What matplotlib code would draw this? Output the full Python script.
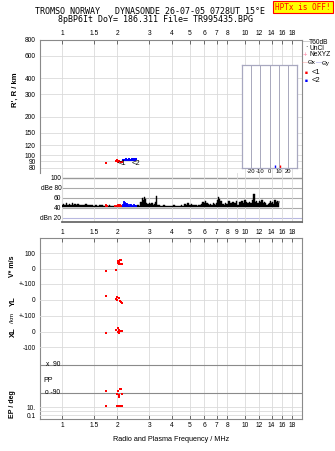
import matplotlib
matplotlib.use('Agg')
import matplotlib.pyplot as plt
from matplotlib.ticker import FixedLocator, FixedFormatter, NullLocator

# ---------------- data ----------------
freq_ticks = [1, 1.5, 2, 3, 4, 5, 6, 7, 8, 10, 12, 14, 16, 18]
freq_ticks_mid = [1, 1.5, 2, 3, 4, 5, 6, 7, 8, 9, 10, 12, 14, 16, 18]
range_ticks = [800, 600, 400, 300, 200, 150, 120, 100, 90, 80]
db_ticks = [100, 80, 60, 40, 20]
db_tick_labels = ['100', 'dBe 80', '60', '40', 'dBn 20']
tilt_ticks = [-20, -10, 0, 10, 20]

# echoes (O = red, X = blue)
o_freq = [1.75, 1.97, 2.00, 2.03, 2.06, 2.09, 2.12]
o_range = [87, 90, 91, 89, 90, 88, 89]
x_freq = [2.15, 2.17, 2.19, 2.21, 2.23, 2.25, 2.27, 2.29, 2.31, 2.34, 2.37, 2.40, 2.43, 2.46, 2.49, 2.52, 2.55]
x_range = [91, 92, 92, 91, 92, 93, 92, 92, 93, 92, 92, 93, 92, 92, 93, 92, 93]
tilt_o = 11
tilt_x = 6

# amplitude trace (MHz, dB)
noise_trace = [
    (1.00, 47), (1.02, 49), (1.04, 46), (1.06, 50), (1.08, 47), (1.10, 48), (1.12, 46), (1.14, 51),
    (1.16, 46), (1.18, 49), (1.20, 47), (1.23, 48), (1.26, 46), (1.29, 47), (1.32, 46), (1.35, 48),
    (1.38, 46), (1.41, 47), (1.44, 46), (1.47, 47), (1.50, 45), (1.54, 46), (1.58, 45), (1.62, 46),
    (1.66, 46), (1.70, 45), (1.74, 45), (1.78, 45), (1.82, 46), (1.86, 45), (1.90, 45), (1.94, 45),
    (1.98, 45), (2.02, 45), (2.06, 45), (2.10, 45), (2.14, 45), (2.18, 45), (2.22, 45), (2.26, 45),
    (2.30, 45), (2.35, 45), (2.40, 45), (2.45, 45), (2.50, 45), (2.55, 45), (2.60, 46), (2.65, 45),
    (2.70, 53), (2.74, 60), (2.78, 56), (2.82, 62), (2.86, 58), (2.90, 51), (2.95, 49), (3.00, 51),
    (3.05, 48), (3.10, 50), (3.15, 47), (3.20, 49), (3.25, 52), (3.30, 64), (3.35, 47), (3.40, 46),
    (3.50, 45), (3.60, 46), (3.70, 45), (3.80, 45), (3.90, 45), (4.00, 45), (4.10, 46), (4.20, 45),
    (4.30, 45), (4.40, 45), (4.50, 46), (4.60, 45), (4.70, 48), (4.80, 47), (4.90, 51), (5.00, 46),
    (5.10, 49), (5.20, 47), (5.30, 46), (5.40, 46), (5.50, 45), (5.60, 47), (5.70, 46), (5.80, 49),
    (5.90, 53), (6.00, 51), (6.10, 55), (6.20, 50), (6.30, 48), (6.40, 46), (6.50, 49), (6.60, 47),
    (6.70, 51), (6.80, 48), (6.90, 47), (7.00, 50), (7.10, 56), (7.20, 62), (7.30, 58), (7.40, 55),
    (7.50, 48), (7.60, 49), (7.70, 47), (7.80, 51), (8.00, 49), (8.20, 55), (8.40, 51), (8.60, 53),
    (8.80, 50), (9.00, 54), (9.20, 47), (9.40, 52), (9.60, 54), (9.80, 51), (10.0, 57), (10.2, 52),
    (10.4, 50), (10.6, 53), (10.8, 51), (11.0, 56), (11.2, 68), (11.4, 53), (11.6, 55), (11.8, 51),
    (12.0, 54), (12.2, 52), (12.4, 56), (12.6, 51), (12.8, 53), (13.0, 50), (13.2, 47), (13.4, 48),
    (13.6, 51), (13.8, 54), (14.0, 50), (14.2, 53), (14.4, 49), (14.6, 56), (14.8, 52), (15.0, 55),
    (15.2, 51), (15.4, 55),
]
o_amp_freq = [1.73, 1.75, 1.77, 1.96, 1.99, 2.02, 2.05, 2.08, 2.11]
o_amp_db = [46, 48, 46, 46, 47, 48, 49, 48, 47]
x_amp_freq = [2.15, 2.18, 2.21, 2.24, 2.27, 2.30, 2.34, 2.38, 2.42, 2.46, 2.50, 2.54]
x_amp_db = [48, 54, 53, 51, 50, 49, 48, 49, 47, 48, 47, 46]

# parameters (bottom panel)
v_freq = [1.75, 1.97, 2.02, 2.04, 2.07, 2.09, 2.03, 2.06, 2.10, 2.12]
v_star = [-16, -10, 50, 45, 58, 52, 35, 30, 28, 32]
yl_freq = [1.75, 1.97, 2.01, 2.05, 2.00, 2.07, 2.09, 2.12]
yl_km = [28, 5, 21, 15, 0, -6, -15, -21]
xl_freq = [1.75, 1.97, 2.03, 2.05, 2.08, 2.03, 2.06, 2.12, 2.05]
xl_km = [-8, 10, 21, 10, 5, -3, -8, 5, -12]
pp_freq = [1.75, 1.99, 2.02, 2.08, 2.10, 2.05, 2.05, 2.13]
pp_deg = [-75, -96, -75, -64, -64, -103, -114, -98]
ep_freq = [1.75, 1.99, 2.02, 2.05, 2.08, 2.10, 2.13]
ep_deg = [21, 21, 18, 16, 14, 16, 14]

# ---------------- layout helpers ----------------
W, H = 335, 451
fig = plt.figure(figsize=(W / 100, H / 100), dpi=100)
fig.patch.set_facecolor('white')
FONT = 'Liberation Sans'
plt.rcParams['font.family'] = FONT


def rect(x0, y0, x1, y1):
    return [x0 / W, 1 - y1 / H, (x1 - x0) / W, (y1 - y0) / H]


def ftxt(x, y, s, **kw):
    kw.setdefault('fontsize', 5)
    kw.setdefault('ha', 'left')
    kw.setdefault('va', 'center')
    return fig.text(x / W, 1 - y / H, s, **kw)


GRID = '#dadada'
SPINE = '#8a8a8a'
FMIN, FMAX = 0.758, 20.5
TS = 4.8
MS = 2.0

# ---------------- title ----------------
ftxt(150, 11, 'TROMSO NORWAY   DYNASONDE 26-07-05 0728UT 15\u00b0E', ha='center',
     family='DejaVu Sans Mono', fontsize=6)
ftxt(156, 20, '8pBP6It DoY= 186.311 File= TR995435.BPG', ha='center',
     family='DejaVu Sans Mono', fontsize=6)
ftxt(303, 7, 'HPTx is OFF!', ha='center', color='red', family='DejaVu Sans Mono', fontsize=5.6,
     bbox=dict(boxstyle='square,pad=0.25', fc='yellow', ec='red', lw=0.8))


def freq_axis(ax, ticks):
    ax.set_xscale('log')
    ax.xaxis.set_major_locator(FixedLocator(ticks))
    ax.xaxis.set_major_formatter(FixedFormatter([('%g' % t) for t in ticks]))
    ax.xaxis.set_minor_locator(NullLocator())


# ---------------- range panel ----------------
ax_r = fig.add_axes(rect(40, 40, 302, 173))
freq_axis(ax_r, freq_ticks)
ax_r.set_xlim(FMIN, FMAX)
ax_r.set_yscale('log')
ax_r.set_ylim(72.6, 800)
ax_r.yaxis.set_major_locator(FixedLocator(range_ticks))
ax_r.yaxis.set_major_formatter(FixedFormatter([str(t) for t in range_ticks]))
ax_r.yaxis.set_minor_locator(NullLocator())
ax_r.tick_params(axis='x', top=True, bottom=False, labeltop=True, labelbottom=False,
                 direction='in', length=3, width=0.6, color='#555', pad=2, labelsize=TS)
ax_r.tick_params(axis='y', direction='in', length=0, pad=3, labelsize=TS)
ax_r.grid(True, color=GRID, lw=0.6)
ax_r.spines['bottom'].set_visible(False)
for s in ('top', 'left', 'right'):
    ax_r.spines[s].set_color(SPINE)
    ax_r.spines[s].set_linewidth(0.8)
ax_r.plot(o_freq, o_range, 's', color='red', ms=MS, mew=0)
ax_r.plot(x_freq, x_range, 's', color='blue', ms=MS, mew=0)
ax_r.text(2.02, 86, '<1', fontsize=5.5, ha='left', va='center', color='k')
ax_r.text(2.40, 86.5, '<2', fontsize=5.5, ha='left', va='center', color='k')
ftxt(15, 90, "R', R / km", rotation=90, ha='center', fontsize=5.5, fontweight='bold')

# tilt inset
ax_t = fig.add_axes(rect(242, 65, 297, 168))
ax_t.set_xlim(-30, 30)
ax_t.set_ylim(0, 1)
ax_t.set_yticks([])
ax_t.set_xticks(tilt_ticks)
ax_t.set_xticklabels(['-20', '-10', '0', '10', '20'])
ax_t.tick_params(axis='x', length=0, pad=1, labelsize=4.2)
for t in tilt_ticks:
    ax_t.axvline(t, color='#a8a8bc', lw=0.7)
for s in ax_t.spines.values():
    s.set_color('#a8a8c0')
    s.set_linewidth(0.9)
ax_t.vlines([tilt_o], 0, 0.03, color='red', lw=1.0)
ax_t.vlines([tilt_x], 0, 0.03, color='blue', lw=1.0)
ax_t.set_xlabel('Tilt / deg', fontsize=4.2, labelpad=0)

# legend
ftxt(303, 42, '\u2014', color='#a0a0a0', fontsize=5)
ftxt(309, 42, 'T60dB', fontsize=4.8)
ftxt(305, 48, '\u00b7', color='k', fontsize=5)
ftxt(309, 48, 'UnCl', fontsize=4.8)
ftxt(302.5, 55, '+', color='#ff80a0', fontsize=5.5)
ftxt(309, 55, 'NeXYZ', fontsize=4.8)
ftxt(302.5, 63, '\u2014', color='#f08080', fontsize=4.5)
ftxt(308, 63, '\u0398x', fontsize=4.5)
ftxt(316, 63, '\u2014', color='#8080e0', fontsize=4.5)
ftxt(322, 63, '\u0398y', fontsize=4.5)
ftxt(305, 73, '\u25a0', color='red', fontsize=3.5)
ftxt(312, 73, '<1', fontsize=5.5)
ftxt(305, 81, '\u25a0', color='blue', fontsize=3.5)
ftxt(312, 81, '<2', fontsize=5.5)

# ---------------- amplitude panel ----------------
ax_d = fig.add_axes(rect(62, 173, 302, 222))
freq_axis(ax_d, freq_ticks_mid)
ax_d.set_xlim(1.0, FMAX)
ax_d.set_ylim(12, 110)
ax_d.set_yticks(db_ticks)
ax_d.set_yticklabels(db_tick_labels)
ax_d.tick_params(axis='y', length=0, pad=0.5, labelsize=TS)
ax_d.tick_params(axis='x', length=0, pad=5, labelsize=TS)
ax_d.grid(True, axis='x', color=GRID, lw=0.6)
ax_d.spines['top'].set_visible(False)
ax_d.spines['left'].set_color(GRID)
ax_d.spines['right'].set_color(SPINE)
ax_d.spines['right'].set_linewidth(0.8)
ax_d.spines['bottom'].set_color('#6a6a6a')
ax_d.spines['bottom'].set_linewidth(1.3)
for v, c, lw in zip(db_ticks, ['#999999', '#aaaaaa', '#aaaaaa', '#aaaaaa', '#b8b8e0'],
                    [1.0, 0.8, 0.8, 0.8, 0.8]):
    ax_d.axhline(v, color=c, lw=lw, zorder=1)
nf = [p[0] for p in noise_trace]
nd = [p[1] for p in noise_trace]
ax_d.fill_between(nf, 41.5, nd, step='mid', color='k', lw=0.3, zorder=3)
ax_d.vlines(o_amp_freq, 41.5, o_amp_db, color='red', lw=1.3, zorder=4)
ax_d.vlines(x_amp_freq, 41.5, x_amp_db, color='blue', lw=1.3, zorder=4)

# ---------------- parameter panel ----------------
B0, B1 = 238, 419
PX = 0.155  # px per unit


def lims(zero_px, scale):
    return (-(B1 - zero_px) / scale, (zero_px - B0) / scale)


ax_b = fig.add_axes(rect(40, B0, 302, B1))
freq_axis(ax_b, freq_ticks)
ax_b.set_xlim(FMIN, FMAX)
ax_b.set_ylim(*lims(268.5, PX))
ax_b.tick_params(axis='x', top=True, bottom=True, labeltop=False, labelbottom=True,
                 direction='in', length=3, width=0.6, color='#555', pad=2, labelsize=TS)
ax_b.grid(True, axis='x', color=GRID, lw=0.6)
for s in ax_b.spines.values():
    s.set_color(SPINE)
    s.set_linewidth(0.8)
ax_b.set_yticks([100, 0, -100])
ax_b.set_yticklabels(['100', '0', '+-100'])
ax_b.tick_params(axis='y', length=0, pad=3, labelsize=TS)
for v in [100, 0, -100]:
    ax_b.axhline(v, color=GRID, lw=0.6, zorder=1)
ax_b.plot(v_freq, v_star, 's', color='red', ms=MS, mew=0, zorder=5)
ax_b.set_xlabel('Radio and Plasma Frequency / MHz', fontsize=5.2, labelpad=5)


def overlay():
    a = fig.add_axes(rect(40, B0, 302, B1))
    a.set_xscale('log')
    a.set_xlim(FMIN, FMAX)
    a.xaxis.set_visible(False)
    a.patch.set_visible(False)
    for s in a.spines.values():
        s.set_visible(False)
    a.tick_params(axis='y', length=0, pad=3, labelsize=TS)
    return a


ax_yl = overlay()
ax_yl.set_ylim(*lims(300, PX))
ax_yl.set_yticks([0, -100])
ax_yl.set_yticklabels(['0', '+-100'])
for v in [0, -100]:
    ax_yl.axhline(v, color=GRID, lw=0.6, zorder=1)
ax_yl.plot(yl_freq, yl_km, 's', color='red', ms=MS, mew=0, zorder=5)

ax_xl = overlay()
ax_xl.set_ylim(*lims(331.5, PX))
ax_xl.set_yticks([0, -100])
ax_xl.set_yticklabels(['0', '-100'])
for v in [0, -100]:
    ax_xl.axhline(v, color=GRID, lw=0.6, zorder=1)
ax_xl.plot(xl_freq, xl_km, 's', color='red', ms=MS, mew=0, zorder=5)

ax_pp = overlay()
ax_pp.set_ylim(*lims(379, 28 / 180))
ax_pp.set_yticks([])
for v in [90, -90]:
    ax_pp.axhline(v, color='#8a8a8a', lw=0.8, zorder=1)
ax_pp.text(0.98, 90, 'x  90', fontsize=TS, ha='right', va='center')
ax_pp.text(0.98, -90, 'o -90', fontsize=TS, ha='right', va='center')
ax_pp.plot(pp_freq, pp_deg, 's', color='red', ms=MS, mew=0, zorder=5)
ftxt(43, 380, 'PP', fontsize=5)

ax_ep = overlay()
ax_ep.set_yscale('log')
ax_ep.set_ylim(10 ** (1 - (B1 - 407) / 4), 10 ** (1 + (407 - B0) / 4))
ax_ep.yaxis.set_major_locator(FixedLocator([10, 0.1]))
ax_ep.yaxis.set_major_formatter(FixedFormatter(['10.', '0.1']))
ax_ep.yaxis.set_minor_locator(NullLocator())
for v in [10, 1, 0.1]:
    ax_ep.axhline(v, color=GRID, lw=0.6, zorder=1)
ax_ep.plot(ep_freq, ep_deg, 's', color='red', ms=MS, mew=0, zorder=5)

# side labels
ftxt(13, 266, 'V* m/s', rotation=90, ha='center', fontsize=5, fontweight='bold')
ftxt(13, 301, 'YL', rotation=90, ha='center', fontsize=5.5, fontweight='bold')
ftxt(13, 318, '/km', rotation=90, ha='center', fontsize=4.5)
ftxt(13, 332, 'XL', rotation=90, ha='center', fontsize=5.5, fontweight='bold')
ftxt(13, 404, 'EP / deg', rotation=90, ha='center', fontsize=5, fontweight='bold')

fig.savefig('out.png', dpi=100, facecolor='white')
